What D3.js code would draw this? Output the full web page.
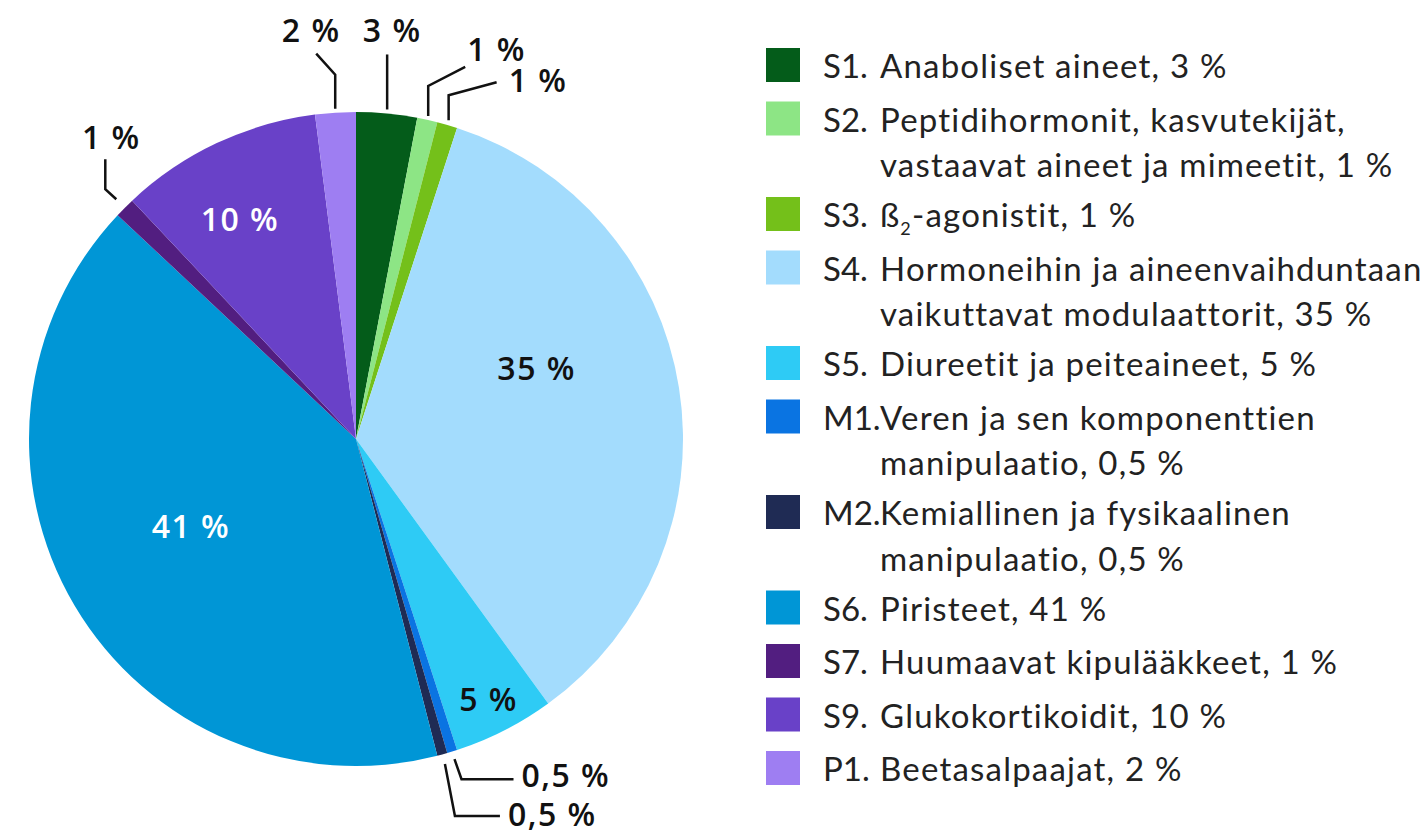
<!DOCTYPE html>
<html>
<head>
<meta charset="utf-8">
<script src="https://cdn.jsdelivr.net/npm/d3@7"></script>
<style>
  body { margin: 0; background: #fff; }
  svg { display: block; }
</style>
</head>
<body>
<div id="chart"></div>
<script>
// slice data, clockwise from 12 o'clock
const codes = ["S1.", "S2.", "S3.", "S4.", "S5.", "M1.", "M2.", "S6.", "S7.", "S9.", "P1."];
const values = [3, 1, 1, 35, 5, 0.5, 0.5, 41, 1, 10, 2];
const sliceLabels = ["3 %", "1 %", "1 %", "35 %", "5 %", "0,5 %", "0,5 %", "41 %", "1 %", "10 %", "2 %"];
const colors = ["#045C1A", "#8DE585", "#74C01A", "#A3DCFD", "#2ECBF5", "#0A74E2",
                "#1F2B54", "#0096D6", "#521E80", "#6941C8", "#9E7EF2"];
const legendLines = [
    ["Anaboliset aineet, 3 %"],
    ["Peptidihormonit, kasvutekijät,", "vastaavat aineet ja mimeetit, 1 %"],
    ["ß{2}-agonistit, 1 %"],
    ["Hormoneihin ja aineenvaihduntaan", "vaikuttavat modulaattorit, 35 %"],
    ["Diureetit ja peiteaineet, 5 %"],
    ["Veren ja sen komponenttien", "manipulaatio, 0,5 %"],
    ["Kemiallinen ja fysikaalinen", "manipulaatio, 0,5 %"],
    ["Piristeet, 41 %"],
    ["Huumaavat kipulääkkeet, 1 %"],
    ["Glukokortikoidit, 10 %"],
    ["Beetasalpaajat, 2 %"]
];

let width = 1428, height = 830;
let cx = 356, cy = 439, R = 327;

let svg = d3.select("#chart").append("svg")
    .attr("width", width)
    .attr("height", height);

let data = codes.map((c, i) => ({code: c, value: values[i], label: sliceLabels[i], color: colors[i], lines: legendLines[i]}));

let pie = d3.pie().sort(null).value(d => d.value).startAngle(0).endAngle(2 * Math.PI)(data);
let arc = d3.arc().innerRadius(0).outerRadius(R);

let g = svg.append("g").attr("transform", `translate(${cx},${cy})`);

g.selectAll("path.slice")
    .data(pie)
    .enter()
    .append("path")
    .attr("class", "slice")
    .attr("d", arc)
    .attr("fill", d => d.data.color);

function polar(a, r) { return [r * Math.sin(a), -r * Math.cos(a)]; }
let mid = d => (d.startAngle + d.endAngle) / 2;
let deg = Math.PI / 180;

// labels placed inside the big slices
let inside = {
    "S4.": {r: 194, da: -12.4, fill: "#111"},
    "S5.": {r: 292, da: 0, fill: "#111"},
    "S6.": {r: 187, da: 2.6, fill: "#fff"},
    "S9.": {r: 248, da: -2.7, fill: "#fff"}
};

let labelStyle = t => t.style("font-family", "'Open Sans', sans-serif")
    .style("font-weight", 600)
    .style("font-size", "32px")
    .style("letter-spacing", "1.5px");

labelStyle(g.selectAll("text.inside")
    .data(pie.filter(d => inside[d.data.code]))
    .enter()
    .append("text")
    .attr("class", "inside")
    .attr("x", d => polar(mid(d) + inside[d.data.code].da * deg, inside[d.data.code].r)[0])
    .attr("y", d => polar(mid(d) + inside[d.data.code].da * deg, inside[d.data.code].r)[1])
    .attr("dy", "0.36em")
    .attr("text-anchor", "middle"))
    .style("fill", d => inside[d.data.code].fill)
    .text(d => d.data.label);

// leader lines for small slices: start gap, then offsets from start, then label offset from end
let leaders = {
    "S1.": {gap: 4, pts: [[0, -55]], lab: [5, -12], anchor: "middle"},
    "S2.": {gap: 4, pts: [[0, -30], [37, -49]], lab: [2, -6], anchor: "start"},
    "S3.": {gap: 5, pts: [[0, -25], [48, -38]], lab: [12, 10], anchor: "start"},
    "M1.": {gap: 8, pts: [[7, 20], [59, 20]], lab: [8, 8], anchor: "start"},
    "M2.": {gap: 10, pts: [[10, 52], [55, 52]], lab: [8, 10], anchor: "start"},
    "S7.": {gap: 12, pts: [[-11, -10], [-11, -40]], lab: [6, -10], anchor: "middle"},
    "P1.": {gap: 4, pts: [[0, -34], [-19, -55]], lab: [-5, -12], anchor: "middle"}
};

let small = pie.filter(d => leaders[d.data.code]);

small.forEach(d => {
    let L = leaders[d.data.code];
    let s = polar(mid(d), R + L.gap);
    let pts = [s].concat(L.pts.map(p => [s[0] + p[0], s[1] + p[1]]));
    g.append("path")
        .attr("d", d3.line()(pts))
        .attr("fill", "none")
        .attr("stroke", "#111")
        .attr("stroke-width", 2.5);
    let e = pts[pts.length - 1];
    labelStyle(g.append("text")
        .attr("x", e[0] + L.lab[0])
        .attr("y", e[1] + L.lab[1])
        .attr("text-anchor", L.anchor))
        .style("fill", "#111")
        .text(d.data.label);
});

// legend
let legX = 766, codeX = 823, textX = 880;
let itemStep = 53.5, lineStep = 42, firstY = 68;
let legend = svg.append("g");
let y = firstY;
data.forEach(d => {
    let row = legend.append("g").attr("transform", `translate(0,${y})`);
    row.append("rect")
        .attr("x", legX).attr("y", -20)
        .attr("width", 34).attr("height", 34)
        .attr("fill", d.color);
    let tStyle = t => t.style("font-family", "Lato, sans-serif")
        .style("font-size", "33px")
        .style("letter-spacing", "1.2px")
        .style("fill", "#222");
    tStyle(row.append("text").attr("x", codeX).attr("y", 10)).style("letter-spacing", "0px").text(d.code);
    d.lines.forEach((ln, j) => {
        let t = tStyle(row.append("text").attr("x", textX).attr("y", 10 + j * (itemStep - 8)));
        let m = ln.match(/^(.*)\{(.+)\}(.*)$/);
        if (m) {
            t.append("tspan").text(m[1]);
            t.append("tspan").attr("dy", 8).style("font-size", "18px").text(m[2]);
            t.append("tspan").attr("dy", -8).text(m[3]);
        } else {
            t.text(ln);
        }
    });
    y += itemStep + (d.lines.length - 1) * lineStep;
});
</script>
</body>
</html>
